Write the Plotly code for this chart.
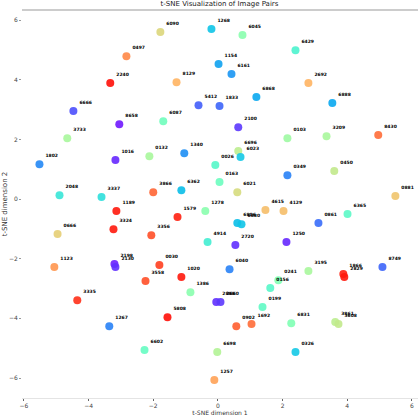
import numpy as np
import plotly.graph_objects as go

# t-SNE coordinates, one entry per image pair
pair_ids = [
    "6090", "0497", "2240", "8129", "6666", "5412", "8658", "6087", "3733",
    "1268", "6045", "6429", "1154", "6161", "2692", "6868", "1833", "6888",
    "2100", "0103", "3209", "8430", "1802", "1016", "0132", "1340", "2048",
    "3337", "3866", "6362", "1189", "1579", "1278", "0666", "3324", "3356",
    "4914", "1123", "2198", "2130", "0030", "6696", "6023", "0026", "0349",
    "0450", "0163", "6021", "0881", "4615", "4129", "6365", "0861", "6806",
    "6880", "2720", "1250", "6040", "8749", "3195", "1866", "2829", "3558",
    "1020", "1386", "3335", "5808", "1267", "6602", "0241", "0156", "2888",
    "2660", "0199", "0902", "1692", "6831", "3861", "3608", "6698", "0326",
    "1257",
]
dim1 = [
    -1.78, -2.83, -3.33, -1.28, -4.47, -0.60, -3.05, -1.69, -4.66,
    -0.20, 0.76, 2.40, 0.02, 0.42, 2.80, 1.19, 0.05, 3.54,
    0.63, 2.15, 3.36, 4.96, -5.52, -3.17, -2.12, -1.04, -4.90,
    -3.60, -2.00, -1.13, -3.14, -1.25, -0.39, -4.96, -3.23, -2.06,
    -0.32, -5.06, -3.20, -3.17, -1.81, 0.63, 0.70, -0.08, 2.15,
    3.60, 0.05, 0.60, 5.49, 1.47, 2.03, 4.01, 3.11, 0.60,
    0.73, 0.54, 2.12, 0.36, 5.09, 2.80, 3.88, 3.91, -2.24,
    -1.13, -0.85, -4.35, -1.56, -3.36, -2.27, 1.87, 1.62, -0.05,
    0.08, 1.38, 0.57, 1.04, 2.27, 3.63, 3.73, -0.02, 2.40,
    -0.11,
]
dim2 = [
    5.60, 4.79, 3.89, 3.92, 2.95, 3.15, 2.51, 2.61, 2.04,
    5.70, 5.50, 4.99, 4.53, 4.19, 3.89, 3.42, 3.12, 3.22,
    2.41, 2.04, 2.11, 2.15, 1.17, 1.31, 1.44, 1.54, 0.13,
    0.07, 0.23, 0.30, -0.40, -0.60, -0.40, -1.17, -1.01, -1.21,
    -1.44, -2.28, -2.18, -2.28, -2.21, 1.61, 1.41, 1.14, 0.80,
    0.94, 0.57, 0.23, 0.10, -0.37, -0.40, -0.50, -0.80, -0.80,
    -0.84, -1.54, -1.44, -2.35, -2.28, -2.41, -2.51, -2.61, -2.75,
    -2.61, -3.12, -3.39, -3.96, -4.26, -5.06, -2.72, -2.98, -3.45,
    -3.45, -3.62, -4.26, -4.19, -4.16, -4.12, -4.19, -5.13, -5.13,
    -6.07,
]
# colour value of each point (0 = violet ... 1 = red)
shade = [
    0.68, 0.82, 0.98, 0.75, 0.10, 0.12, 0.03, 0.47, 0.58,
    0.28, 0.52, 0.40, 0.22, 0.20, 0.75, 0.23, 0.13, 0.23,
    0.07, 0.56, 0.58, 0.86, 0.18, 0.05, 0.58, 0.19, 0.36,
    0.34, 0.87, 0.27, 0.97, 0.96, 0.52, 0.70, 0.97, 0.90,
    0.38, 0.80, 0.04, 0.06, 0.92, 0.62, 0.29, 0.42, 0.17,
    0.63, 0.46, 0.67, 0.72, 0.73, 0.73, 0.43, 0.14, 0.27,
    0.28, 0.06, 0.05, 0.17, 0.13, 0.58, 0.96, 0.97, 0.90,
    0.97, 0.52, 0.94, 0.98, 0.17, 0.45, 0.50, 0.42, 0.06,
    0.07, 0.44, 0.88, 0.86, 0.50, 0.62, 0.63, 0.60, 0.29,
    0.78,
]
x_ticks = [-6, -4, -2, 0, 2, 4, 6]
y_ticks = [-6, -4, -2, 0, 2, 4, 6]


def rainbow_scale(n=21):
    # matplotlib "rainbow" colormap
    stops = []
    for t in np.linspace(0, 1, n):
        r = min(1.0, abs(2 * t - 0.5))
        g = np.sin(np.pi * t)
        b = np.cos(np.pi * t / 2)
        stops.append([float(t), "rgb(%d,%d,%d)" % (round(r * 255), round(g * 255), round(b * 255))])
    return stops


fig = go.Figure()
fig.add_trace(
    go.Scatter(
        x=dim1,
        y=dim2,
        mode="markers+text",
        text=pair_ids,
        textposition="top right",
        textfont=dict(family="DejaVu Sans", size=4.5, color="#000", weight="bold"),
        marker=dict(
            size=8,
            color=shade,
            colorscale=rainbow_scale(),
            cmin=0,
            cmax=1,
            opacity=0.9,
            line=dict(width=0),
        ),
        showlegend=False,
        cliponaxis=False,
    )
)

axis_font = dict(family="DejaVu Sans", size=6, color="#444")
fig.update_layout(
    width=418,
    height=416,
    margin=dict(l=22, r=0, t=10, b=18),
    plot_bgcolor="white",
    paper_bgcolor="white",
    hovermode=False,
    title=dict(
        text="t-SNE Visualization of Image Pairs",
        font=dict(family="DejaVu Sans", size=7, color="#222"),
        x=0.525,
        xanchor="center",
        y=0.992,
        yref="container",
        yanchor="middle",
        pad=dict(t=0, b=0),
    ),
    xaxis=dict(
        range=[-6.06, 6.19],
        tickvals=x_ticks,
        showgrid=False,
        zeroline=False,
        showline=True,
        linecolor="#e4e4e4",
        linewidth=1,
        ticks="outside",
        ticklen=2,
        tickcolor="#666",
        tickfont=axis_font,
        automargin=False,
        title=dict(text="t-SNE dimension 1", font=dict(family="DejaVu Sans", size=6, color="#333"), standoff=0),
    ),
    yaxis=dict(
        range=[-6.67, 6.34],
        tickvals=y_ticks,
        showgrid=False,
        zeroline=False,
        showline=False,
        ticks="outside",
        ticklen=2,
        tickcolor="#999",
        tickfont=axis_font,
        automargin=False,
        title=dict(text="t-SNE dimension 2", font=dict(family="DejaVu Sans", size=7, color="#333"), standoff=0),
    ),
    shapes=[
        dict(type="line", xref="paper", yref="paper", x0=0, x1=1, y0=1, y1=1,
             line=dict(color="#999", width=1)),
    ],
)

# drop the page's default body margin so the figure sits at the window's corner
fig.write_html(
    "out.html",
    config={"displayModeBar": False},
    post_script="document.body.style.margin='0';",
)
